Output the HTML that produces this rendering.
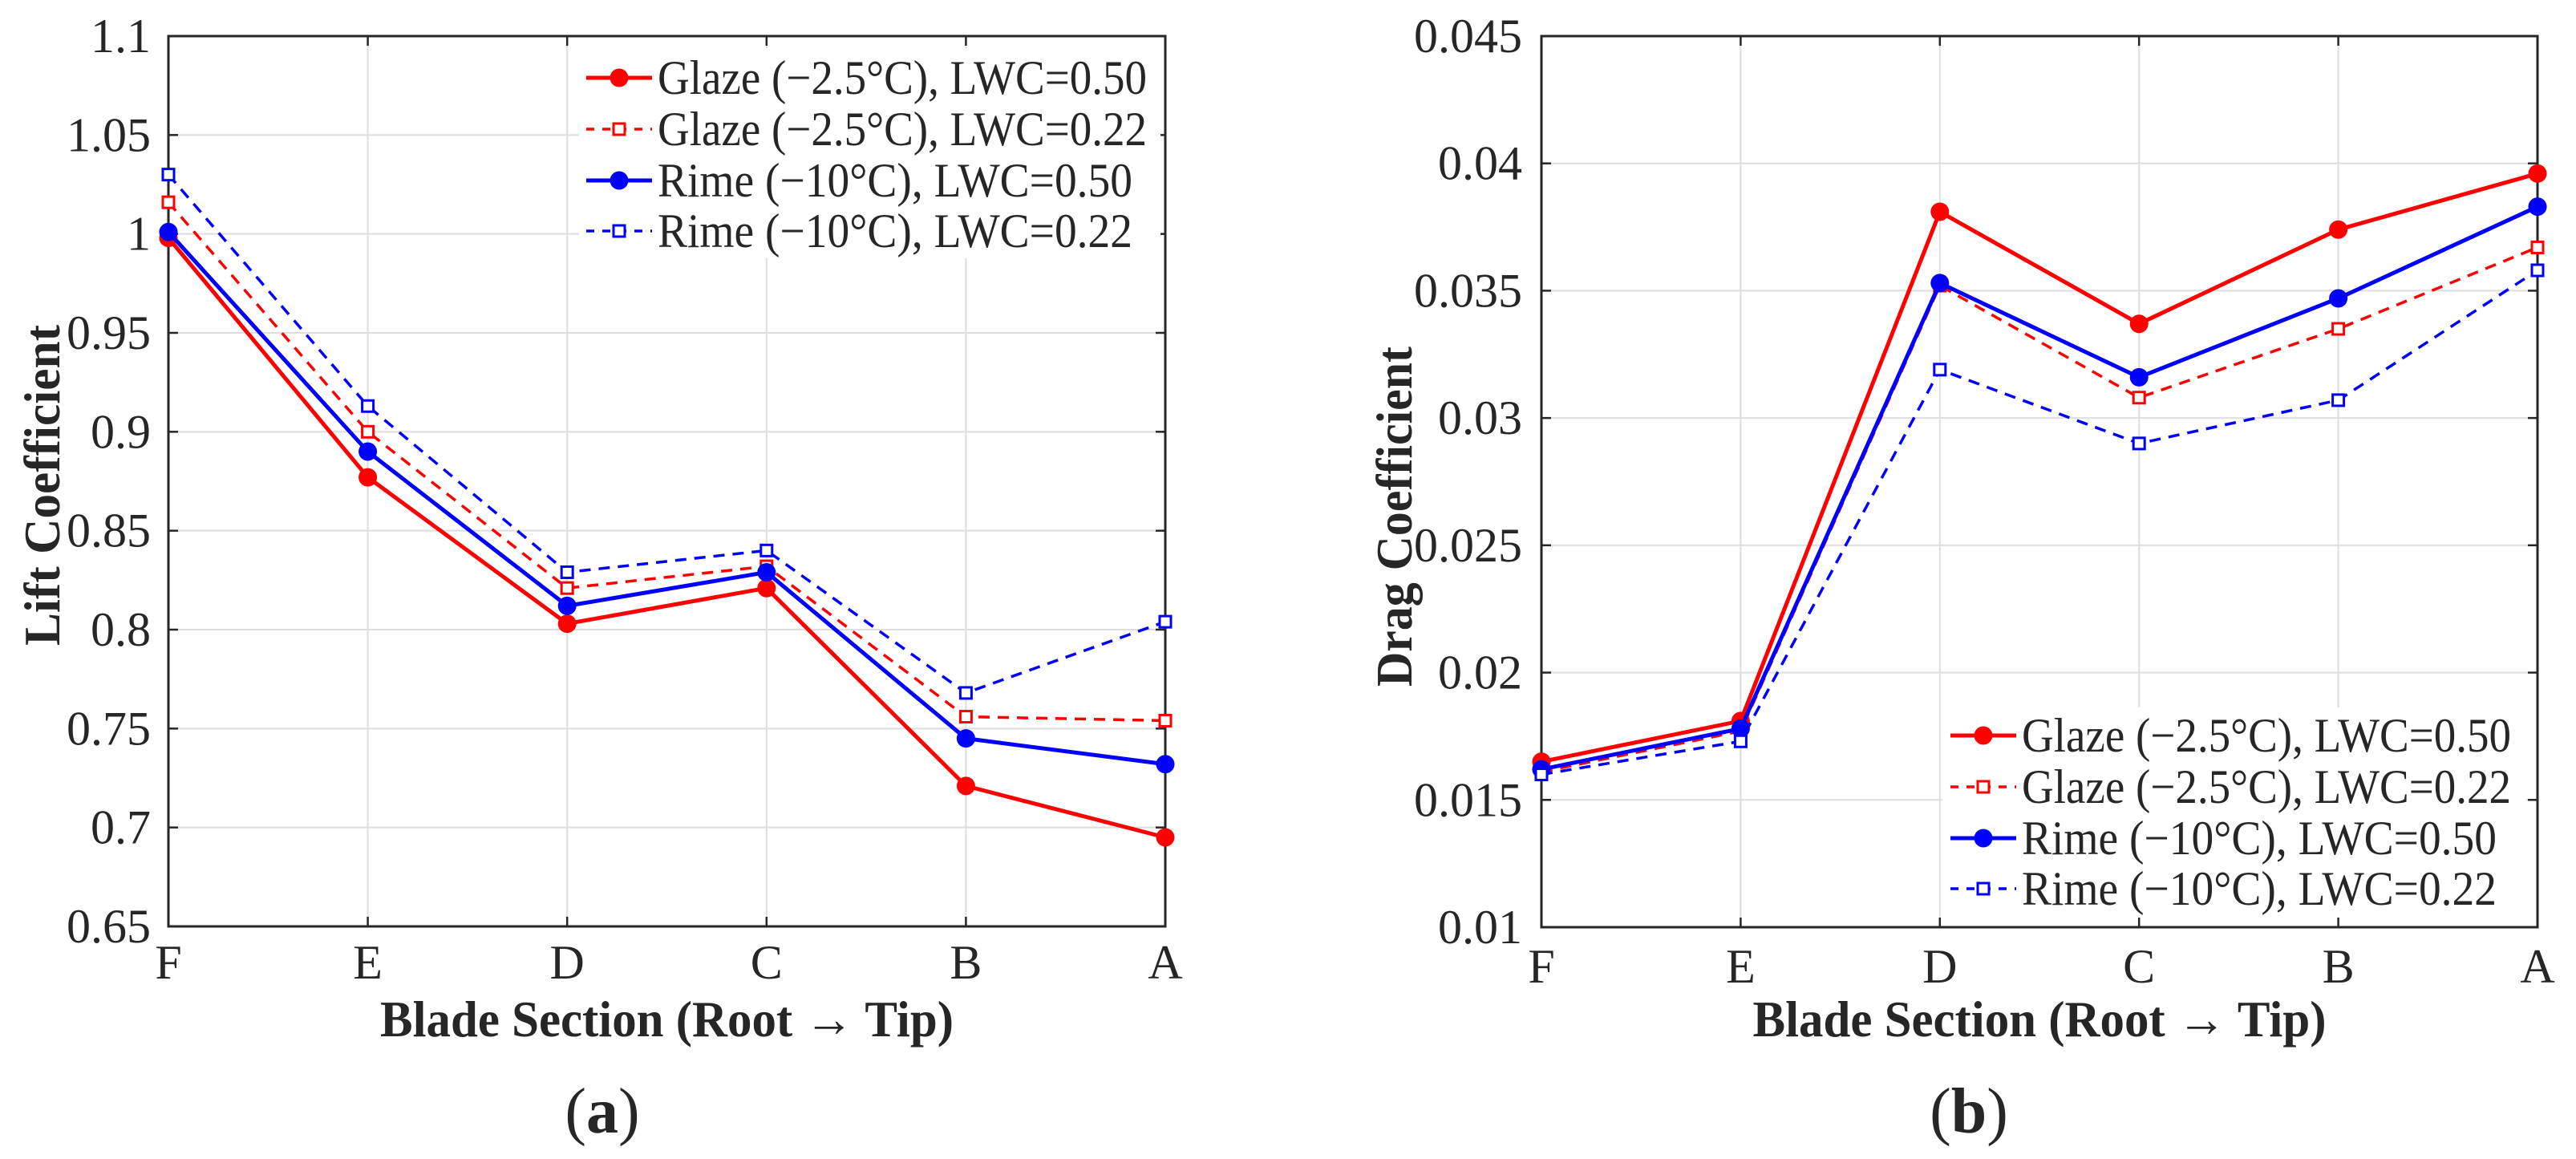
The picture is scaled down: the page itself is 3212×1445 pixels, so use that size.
<!DOCTYPE html>
<html><head><meta charset="utf-8"><style>
html,body{margin:0;padding:0;background:#fff}
svg{display:block}
text{font-family:"Liberation Serif",serif;fill:#262626}
</style></head><body>
<svg id="fig" width="3212" height="1445" viewBox="0 0 3212 1445" xmlns="http://www.w3.org/2000/svg"></svg>
<script>
const categories = ["F","E","D","C","B","A"];
const seriesNames = ["Glaze (\u22122.5\u00B0C), LWC=0.50","Glaze (\u22122.5\u00B0C), LWC=0.22","Rime (\u221210\u00B0C), LWC=0.50","Rime (\u221210\u00B0C), LWC=0.22"];
const liftGlaze50 = [0.998,0.877,0.803,0.821,0.721,0.695];
const liftGlaze22 = [1.016,0.900,0.821,0.832,0.756,0.754];
const liftRime50  = [1.001,0.890,0.812,0.829,0.745,0.732];
const liftRime22  = [1.030,0.913,0.829,0.840,0.768,0.804];
const dragGlaze50 = [0.0165,0.0181,0.0381,0.0337,0.0374,0.0396];
const dragGlaze22 = [0.0161,0.0177,0.0352,0.0308,0.0335,0.0367];
const dragRime50  = [0.0162,0.0178,0.0353,0.0316,0.0347,0.0383];
const dragRime22  = [0.0160,0.0173,0.0319,0.0290,0.0307,0.0358];
const liftTicks = ["0.65","0.7","0.75","0.8","0.85","0.9","0.95","1","1.05","1.1"];
const dragTicks = ["0.01","0.015","0.02","0.025","0.03","0.035","0.04","0.045"];

const NS="http://www.w3.org/2000/svg";
const svg=document.getElementById('fig');
function mk(tag,attrs,parent){const e=document.createElementNS(NS,tag);for(const k in attrs)e.setAttribute(k,attrs[k]);(parent||svg).appendChild(e);return e;}

const styles=[
 {color:"#ff0000",dash:null,marker:"circle",w:5},
 {color:"#ff0000",dash:"14 10",marker:"square",w:3.5},
 {color:"#0000ff",dash:null,marker:"circle",w:5},
 {color:"#0000ff",dash:"14 10",marker:"square",w:3.5}
];

function drawPanel(cfg){
 const g=mk('g',{});
 
 
 const {x0,x1,y0,y1,ymin,ymax}=cfg;
 const xs=i=>x0+(x1-x0)*i/(categories.length-1);
 const ys=v=>y1-(v-ymin)/(ymax-ymin)*(y1-y0);
 categories.forEach((c,i)=>{const l=mk('line',{x1:xs(i),x2:xs(i),y1:y0,y2:y1,stroke:"#dedede","stroke-width":2},g);
  });
 cfg.ticks.forEach(t=>{const y=ys(parseFloat(t));const l=mk('line',{x1:x0,x2:x1,y1:y,y2:y,stroke:"#dedede","stroke-width":2},g);
  });
 const box=mk('rect',{x:x0,y:y0,width:x1-x0,height:y1-y0,fill:"none",stroke:"#262626","stroke-width":3},g);
 
 categories.forEach((c,i)=>{
  mk('line',{x1:xs(i),x2:xs(i),y1:y1,y2:y1-12,stroke:"#262626","stroke-width":2.5},g);
  mk('line',{x1:xs(i),x2:xs(i),y1:y0,y2:y0+12,stroke:"#262626","stroke-width":2.5},g);
  const t=mk('text',{x:xs(i),y:cfg.xLabY,"font-size":60,"text-anchor":"middle"},g);t.textContent=c;
  
 });
 cfg.ticks.forEach(tk=>{const y=ys(parseFloat(tk));
  mk('line',{x1:x0,x2:x0+12,y1:y,y2:y,stroke:"#262626","stroke-width":2.5},g);
  mk('line',{x1:x1,x2:x1-12,y1:y,y2:y,stroke:"#262626","stroke-width":2.5},g);
  const t=mk('text',{x:cfg.yLabX,y:y+20,"font-size":60,"text-anchor":"end"},g);t.textContent=tk;
  
 });
 const lb=mk('rect',{x:cfg.leg.bx,y:cfg.leg.by,width:cfg.leg.bw,height:cfg.leg.bh,fill:"#fff"},g);
 
 cfg.series.forEach((vals,si)=>{
  const st=styles[si];
  const sg=mk('g',{},g);
  
  const pts=vals.map((v,i)=>xs(i)+','+ys(v)).join(' ');
  const pl=mk('polyline',{points:pts,fill:"none",stroke:st.color,"stroke-width":st.w,"stroke-linejoin":"round"},sg);
  if(st.dash)pl.setAttribute('stroke-dasharray',st.dash);
  
  vals.forEach((v,i)=>{
   let m;
   if(st.marker==="circle")m=mk('circle',{cx:xs(i),cy:ys(v),r:11.5,fill:st.color},sg);
   else m=mk('rect',{x:xs(i)-7,y:ys(v)-7,width:14,height:14,fill:"#fff",stroke:st.color,"stroke-width":3},sg);
   
  });
 });
 const lg=mk('g',{},g);
 
 seriesNames.forEach((n,si)=>{
  const st=styles[si];const y=cfg.leg.rows[si];
  const e=mk('g',{},lg);
  
  const l=mk('line',{x1:cfg.leg.lx,x2:cfg.leg.lx+82,y1:y,y2:y,stroke:st.color,"stroke-width":st.w},e);
  if(st.dash)l.setAttribute('stroke-dasharray',"10 10");
  const cx=cfg.leg.lx+41;
  if(st.marker==="circle")mk('circle',{cx:cx,cy:y,r:11.5,fill:st.color},e);
  else mk('rect',{x:cx-7,y:y-7,width:14,height:14,fill:"#fff",stroke:st.color,"stroke-width":3},e);
  const t=mk('text',{x:cfg.leg.tx,y:y+20,"font-size":60,fill:"#111",textLength:(si<2?610:592),lengthAdjust:"spacingAndGlyphs"},e);
  t.textContent=n;
 });
 const xt=mk('text',{x:(x0+x1)/2,y:1292,"font-size":64,"font-weight":"bold","text-anchor":"middle",textLength:715,lengthAdjust:"spacingAndGlyphs"},g);
 xt.textContent="Blade Section (Root \u2192 Tip)";
 
 const yt=mk('text',{x:0,y:0,"font-size":64,"font-weight":"bold","text-anchor":"middle",transform:`translate(${cfg.ytX},${cfg.ytY}) rotate(-90)`,textLength:cfg.ytLen,lengthAdjust:"spacingAndGlyphs"},g);
 yt.textContent=cfg.ytitle;
 
 const pl=mk('text',{x:cfg.plX,y:1412,"font-size":80,"text-anchor":"middle",fill:"#000"},g);
 
 pl.appendChild(document.createTextNode('('));
 const ts=mk('tspan',{"font-weight":"bold"},pl);ts.textContent=cfg.panel;
 pl.appendChild(document.createTextNode(')'));
}

drawPanel({name:'lift-chart',x0:210,x1:1453,y0:45,y1:1155,ymin:0.65,ymax:1.1,ticks:liftTicks,
 series:[liftGlaze50,liftGlaze22,liftRime50,liftRime22],xLabY:1220,yLabX:188,
 leg:{bx:722,by:60,bw:725,bh:262,lx:731,tx:820,rows:[97,161,225,288]},
 ytitle:"Lift Coefficient",ytX:74,ytY:605,ytLen:400,plX:751,panel:'a'});
drawPanel({name:'drag-chart',x0:1922,x1:3164,y0:45,y1:1156,ymin:0.01,ymax:0.045,ticks:dragTicks,
 series:[dragGlaze50,dragGlaze22,dragRime50,dragRime22],xLabY:1225,yLabX:1898,
 leg:{bx:2422,by:882,bw:728,bh:262,lx:2432,tx:2521,rows:[917,981,1045,1108]},
 ytitle:"Drag Coefficient",ytX:1760,ytY:644,ytLen:424,plX:2455,panel:'b'});
</script>
</body></html>
